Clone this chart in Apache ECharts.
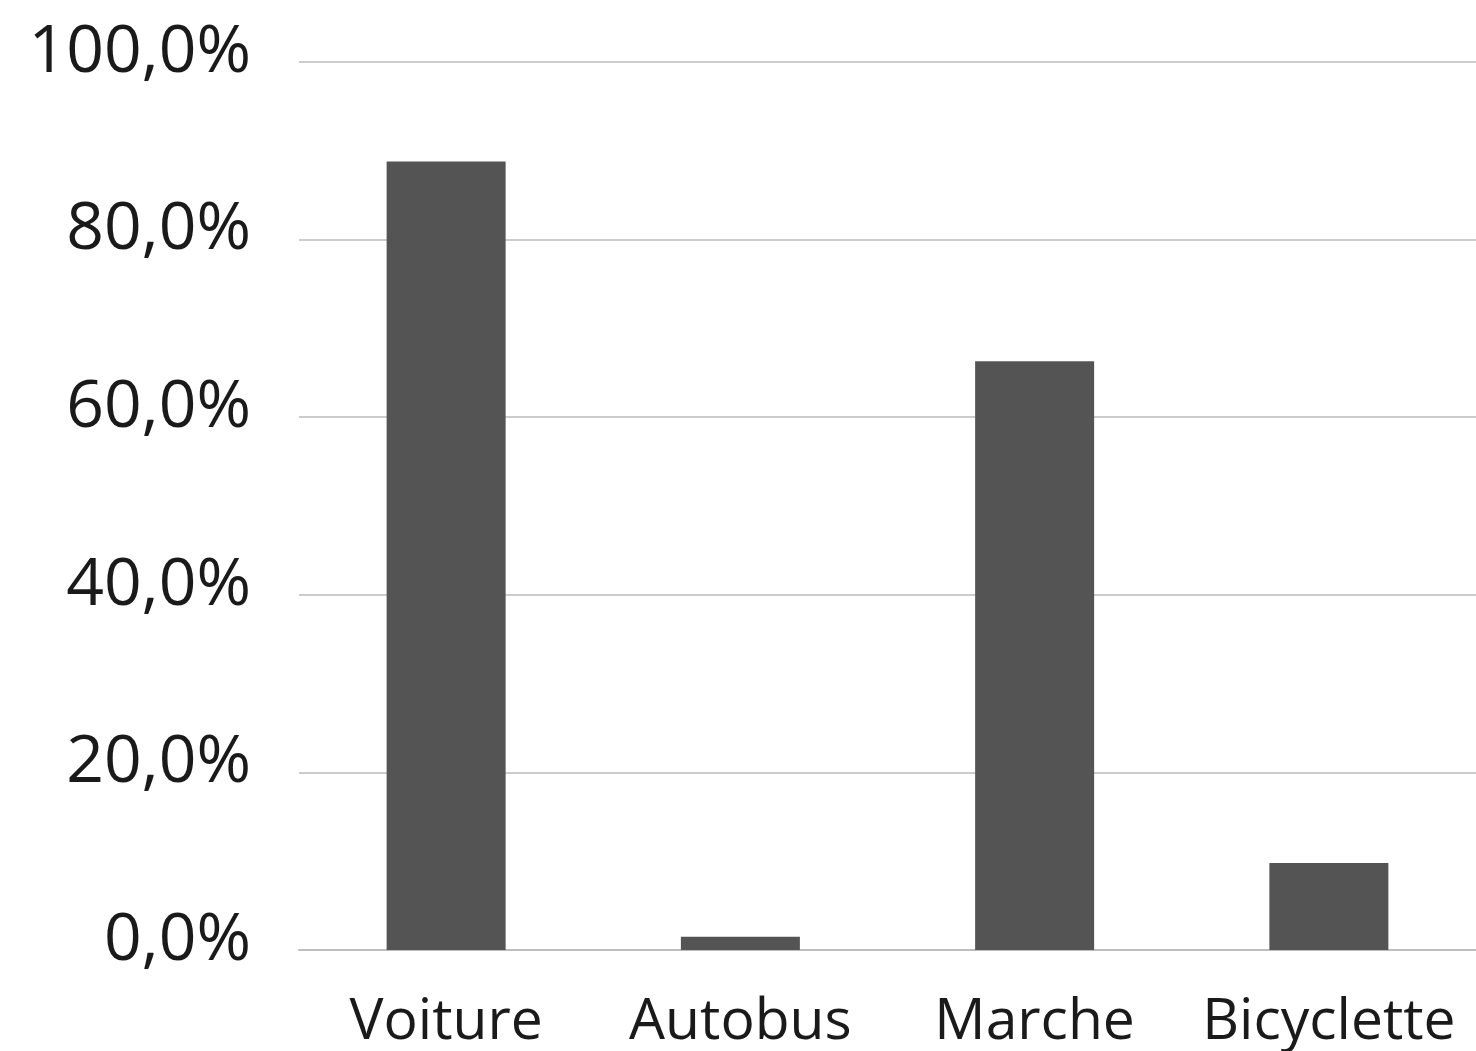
<!DOCTYPE html>
<html>
<head>
<meta charset="utf-8">
<script src="https://cdn.jsdelivr.net/npm/echarts@6/dist/echarts.min.js"></script>
<style>
html,body{margin:0;padding:0;background:#fff;overflow:hidden;}
#chart{width:1476px;height:1051px;}
</style>
</head>
<body>
<div id="chart"></div>
<script>
const categories = ['Voiture', 'Autobus', 'Marche', 'Bicyclette'];
const values = [88.8, 1.5, 66.3, 9.8];
const yTicks = [0, 20, 40, 60, 80, 100];

const chart = echarts.init(document.getElementById('chart'));
chart.setOption({
  animation: false,
  grid: { left: 299, right: 0, top: 62, bottom: 101, containLabel: false },
  xAxis: {
    type: 'category',
    data: categories,
    axisLine: { show: true, lineStyle: { color: '#bdbdbd', width: 2 } },
    axisTick: { show: false },
    axisLabel: { interval: 0, color: '#1a1a1a', fontSize: 57, fontFamily: 'Open Sans', margin: 44 }
  },
  yAxis: {
    type: 'value',
    min: yTicks[0],
    max: yTicks[yTicks.length - 1],
    interval: 20,
    axisLine: { show: false },
    axisTick: { show: false },
    splitLine: { lineStyle: { color: '#cccccc', width: 2 } },
    axisLabel: {
      color: '#1a1a1a', fontSize: 66, fontFamily: 'Open Sans', margin: 48,
      verticalAlign: 'bottom', lineHeight: 18,
      formatter: v => v.toFixed(1).replace('.', ',') + '%'
    }
  },
  series: [{
    type: 'bar',
    data: values,
    barWidth: 119,
    itemStyle: { color: '#545454' }
  }]
});
</script>
</body>
</html>
